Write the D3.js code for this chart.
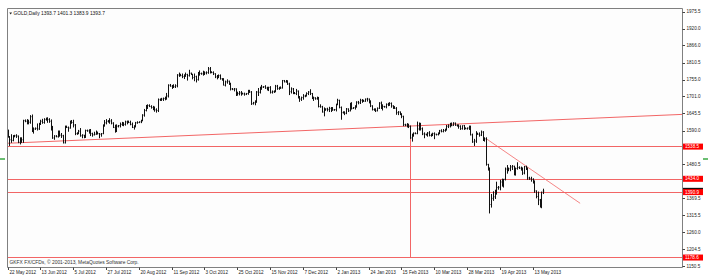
<!DOCTYPE html>
<html>
<head>
<meta charset="utf-8">
<script src="https://cdn.jsdelivr.net/npm/d3@7"></script>
<style>
  body { margin: 0; background: #fff; }
  svg { display: block; font-family: "Liberation Sans", Arial, sans-serif; }
</style>
</head>
<body>
<div id="chart"></div>
<script>
// GOLD daily bars, 22 May 2012 .. 21 May 2013 (broker has Sunday bars)
var opens = [
  1588,1570,1560,1558,1572,1573,1572,1552,1563,1560, 1622,1620,1620,1617,1635,1588,1595,1597,1595,1612,
  1620,1616,1626,1628,1626,1620,1600,1566,1572,1570, 1586,1575,1573,1550,1603,1600,1598,1620,1616,1608,
  1580,1582,1588,1573,1575,1568,1590,1589,1590,1580, 1576,1578,1585,1580,1578,1580,1604,1615,1620,1618,
  1621,1614,1600,1587,1604,1606,1610,1612,1610,1618, 1620,1616,1610,1600,1605,1615,1616,1618,1622,1640,
  1655,1668,1671,1668,1665,1664,1657,1655,1690,1691, 1692,1694,1694,1702,1737,1734,1730,1732,1735,1770,
  1772,1768,1765,1770,1772,1768,1776,1772,1762,1765, 1755,1778,1775,1774,1778,1777,1778,1790,1780,1778,
  1774,1764,1766,1768,1758,1754,1737,1748,1750,1742, 1725,1724,1725,1708,1710,1712,1710,1709,1708,1710,
  1719,1715,1677,1680,1683,1715,1714,1730,1731,1732, 1728,1725,1730,1714,1716,1718,1734,1726,1729,1728,
  1752,1748,1750,1741,1716,1725,1712,1710,1718,1697, 1692,1697,1702,1704,1710,1715,1710,1695,1696,1693,
  1697,1668,1667,1650,1658,1660,1658,1662,1663,1657, 1658,1675,1688,1665,1648,1650,1646,1660,1654,1675,
  1662,1664,1668,1682,1680,1688,1687,1685,1692,1692, 1684,1670,1658,1658,1654,1662,1679,1662,1668,1667,
  1675,1675,1678,1670,1666,1662,1648,1650,1644,1636, 1609,1608,1610,1604,1566,1575,1581,1580,1595,1612,
  1596,1579,1578,1576,1582,1574,1575,1580,1578,1577, 1580,1589,1587,1590,1592,1604,1605,1612,1606,1614,
  1607,1605,1604,1596,1606,1597,1596,1598,1600,1576, 1553,1556,1580,1578,1575,1585,1558,1563,1480,1468,
  1350,1370,1375,1393,1405,1406,1423,1412,1432,1465, 1462,1466,1472,1474,1446,1467,1470,1468,1468,1452,
  1473,1468,1436,1434,1432,1425,1394,1376,1365,1350, 1393.7
];
var highs = [
  1593,1572,1578,1575,1576,1578,1574,1568,1568,1625, 1626,1627,1625,1640,1642,1600,1600,1613,1615,1625,
  1628,1630,1632,1633,1630,1626,1605,1575,1575,1590, 1590,1582,1576,1606,1606,1603,1622,1624,1625,1611,
  1584,1592,1598,1578,1576,1593,1593,1594,1595,1583, 1586,1590,1586,1582,1582,1610,1624,1627,1624,1630,
  1627,1617,1609,1610,1608,1616,1618,1617,1622,1622, 1622,1622,1616,1607,1618,1620,1620,1625,1643,1660,
  1673,1675,1675,1672,1670,1668,1662,1694,1694,1696, 1697,1700,1712,1740,1741,1738,1740,1740,1773,1778,
  1774,1775,1772,1778,1774,1787,1778,1774,1775,1768, 1780,1785,1778,1784,1782,1782,1796,1796,1782,1782,
  1776,1770,1772,1772,1760,1760,1752,1756,1752,1745, 1728,1728,1727,1716,1718,1718,1713,1713,1712,1722,
  1722,1718,1683,1688,1718,1728,1732,1738,1734,1737, 1732,1732,1734,1720,1720,1738,1738,1732,1733,1754,
  1754,1754,1753,1745,1730,1728,1715,1725,1720,1702, 1700,1708,1706,1714,1718,1724,1712,1700,1698,1700,
  1699,1675,1670,1665,1662,1664,1667,1666,1666,1660, 1677,1693,1690,1668,1652,1652,1663,1662,1680,1682,
  1666,1672,1685,1686,1693,1692,1690,1694,1696,1694, 1688,1672,1662,1662,1665,1682,1684,1675,1670,1678,
  1680,1682,1681,1672,1669,1666,1653,1652,1646,1638, 1612,1614,1612,1606,1580,1584,1584,1619,1616,1615,
  1600,1584,1580,1585,1588,1580,1583,1584,1580,1584, 1592,1594,1595,1596,1608,1610,1615,1616,1617,1616,
  1610,1610,1607,1607,1608,1600,1600,1606,1606,1580, 1563,1588,1583,1584,1590,1588,1568,1568,1482,1470,
  1384,1393,1398,1424,1410,1430,1434,1433,1470,1478, 1470,1478,1478,1476,1470,1487,1474,1473,1470,1475,
  1476,1470,1440,1440,1435,1428,1396,1392,1368,1392, 1401.3
];
var lows = [
  1567,1540,1550,1555,1568,1566,1549,1545,1550,1550, 1617,1610,1610,1612,1585,1580,1592,1590,1592,1608,
  1612,1612,1622,1615,1615,1590,1563,1560,1568,1567, 1570,1566,1548,1548,1598,1586,1596,1612,1600,1575,
  1576,1578,1570,1565,1565,1566,1586,1580,1572,1570, 1574,1576,1577,1565,1570,1578,1603,1610,1616,1612,
  1610,1598,1583,1585,1600,1600,1605,1604,1606,1610, 1614,1607,1598,1593,1600,1612,1614,1614,1620,1635,
  1652,1660,1666,1661,1656,1651,1648,1650,1686,1686, 1686,1688,1690,1697,1732,1725,1728,1728,1730,1764,
  1766,1760,1757,1764,1752,1765,1770,1756,1750,1746, 1752,1768,1771,1768,1770,1772,1774,1775,1776,1770,
  1760,1756,1760,1755,1752,1736,1733,1742,1738,1720, 1721,1717,1702,1703,1704,1703,1707,1703,1705,1706,
  1712,1673,1674,1672,1680,1702,1710,1722,1728,1725, 1720,1718,1710,1710,1712,1714,1722,1722,1725,1726,
  1746,1745,1738,1705,1710,1708,1708,1705,1694,1683, 1686,1690,1698,1700,1705,1705,1692,1686,1690,1690,
  1665,1664,1648,1636,1654,1652,1650,1650,1654,1654, 1652,1672,1662,1625,1645,1640,1643,1650,1652,1658,
  1660,1658,1664,1675,1676,1680,1683,1683,1684,1678, 1666,1655,1654,1650,1652,1660,1660,1655,1664,1662,
  1669,1670,1664,1660,1660,1641,1640,1640,1630,1604, 1604,1600,1598,1563,1554,1570,1578,1578,1590,1590,
  1575,1565,1574,1570,1571,1570,1572,1562,1574,1574, 1578,1584,1584,1586,1590,1598,1600,1604,1605,1605,
  1603,1596,1592,1593,1592,1594,1593,1592,1574,1550, 1540,1550,1576,1570,1572,1556,1554,1476,1460,1321,
  1340,1362,1368,1382,1398,1396,1408,1405,1428,1450, 1458,1458,1462,1445,1444,1463,1465,1460,1446,1448,
  1462,1430,1430,1424,1418,1388,1370,1348,1340,1338, 1383.9
];
var closes = [
  1570,1560,1558,1572,1573,1572,1552,1563,1560,1622, 1620,1620,1617,1635,1588,1595,1597,1595,1612,1620,
  1616,1626,1628,1626,1620,1600,1566,1572,1570,1586, 1575,1573,1550,1603,1600,1598,1620,1616,1608,1580,
  1582,1588,1573,1575,1568,1590,1589,1590,1580,1576, 1578,1585,1580,1578,1580,1604,1615,1620,1618,1621,
  1614,1600,1587,1604,1606,1610,1612,1610,1618,1620, 1616,1610,1600,1605,1615,1616,1618,1622,1640,1655,
  1668,1671,1668,1665,1664,1657,1655,1690,1691,1692, 1694,1694,1702,1737,1734,1730,1732,1735,1770,1772,
  1768,1765,1770,1772,1768,1776,1772,1762,1765,1755, 1778,1775,1774,1778,1777,1778,1790,1780,1778,1774,
  1764,1766,1768,1758,1754,1737,1748,1750,1742,1725, 1724,1725,1708,1710,1712,1710,1709,1708,1710,1719,
  1715,1677,1680,1683,1715,1714,1730,1731,1732,1728, 1725,1730,1714,1716,1718,1734,1726,1729,1728,1752,
  1748,1750,1741,1716,1725,1712,1710,1718,1697,1692, 1697,1702,1704,1710,1715,1710,1695,1696,1693,1697,
  1668,1667,1650,1658,1660,1658,1662,1663,1657,1658, 1675,1688,1665,1648,1650,1646,1660,1654,1675,1662,
  1664,1668,1682,1680,1688,1687,1685,1692,1692,1684, 1670,1658,1658,1654,1662,1679,1662,1668,1667,1675,
  1675,1678,1670,1666,1662,1648,1650,1644,1636,1609, 1608,1610,1604,1566,1575,1581,1580,1595,1612,1596,
  1579,1578,1576,1582,1574,1575,1580,1578,1577,1580, 1589,1587,1590,1592,1604,1605,1612,1606,1614,1607,
  1605,1604,1596,1606,1597,1596,1598,1600,1576,1553, 1556,1580,1578,1575,1585,1558,1563,1480,1468,1350,
  1370,1375,1393,1405,1406,1423,1412,1432,1465,1462, 1466,1472,1474,1446,1467,1470,1468,1468,1452,1473,
  1468,1436,1434,1432,1425,1394,1376,1365,1350,1388, 1393.7
];

// time axis labels: one every 19 bars
var dateLabels = ["22 May 2012","13 Jun 2012","5 Jul 2012","27 Jul 2012","20 Aug 2012","11 Sep 2012",
  "3 Oct 2012","25 Oct 2012","15 Nov 2012","7 Dec 2012","2 Jan 2013","24 Jan 2013","15 Feb 2013",
  "10 Mar 2013","28 Mar 2013","19 Apr 2013","13 May 2013"];
var dateBars = [0,19,38,57,76,95,114,133,152,171,190,209,228,247,266,285,304];

// price scale labels that are not covered by object labels
var priceTicks = [1975.5,1920.0,1866.0,1810.5,1755.0,1701.0,1645.5,1590.0,1480.5,
  1369.5,1315.5,1260.0,1204.5,1150.5];

// drawn objects
var levels = [1538.5, 1434.0, 1390.9, 1178.6];
var bidPrice = 1393.7;
var riseLine = [[0, 1548.7], [310, 1623.0]];
var fallLine = [[277, 1564.0], [331.5, 1354.0]];
var vLine = [233, 1606.0, 1178.6];
var title = "GOLD,Daily 1393.7 1401.3 1383.9 1393.7";
var copyright = "GKFX FX/CFDs, \u00a9 2001-2013, MetaQuotes Software Corp.";

var W = 709, H = 279;
var L = 7.5, T = 8.5, R = 682.5, B = 267.5;
var red = "#f26666", fs = 4.6;

var svg = d3.select("#chart").append("svg")
    .attr("width", W).attr("height", H);

svg.append("rect").attr("x", L).attr("y", T).attr("width", R - L).attr("height", B - T)
    .attr("fill", "#fdfdfd");

var x = d3.scaleLinear().domain([0, closes.length - 1]).range([7.5, 543]);
var y = d3.scaleLinear().domain([1150.5, 1975.5]).range([266, 11.7]);
var px = function(i) { return Math.round(x(i)) + 0.5; };
var py = function(p) { return Math.round(y(p)) + 0.5; };

svg.append("clipPath").attr("id", "plot").append("rect")
    .attr("x", L).attr("y", T).attr("width", R - L).attr("height", B - T);

var plot = svg.append("g").attr("clip-path", "url(#plot)");

// horizontal levels
plot.selectAll("line.level").data(levels).join("line")
    .attr("class", "level")
    .attr("x1", L).attr("x2", R)
    .attr("y1", d => py(d)).attr("y2", d => py(d))
    .attr("stroke", red).attr("stroke-width", 1);

// trend lines
var slope = (riseLine[1][1] - riseLine[0][1]) / (riseLine[1][0] - riseLine[0][0]);
var bl = x.invert(L), br = x.invert(R);
plot.append("line")
    .attr("x1", L).attr("y1", y(riseLine[0][1] + slope * (bl - riseLine[0][0])))
    .attr("x2", R).attr("y2", y(riseLine[0][1] + slope * (br - riseLine[0][0])))
    .attr("stroke", red).attr("stroke-width", 1);

plot.append("line")
    .attr("x1", x(fallLine[0][0])).attr("y1", y(fallLine[0][1]))
    .attr("x2", x(fallLine[1][0])).attr("y2", y(fallLine[1][1]))
    .attr("stroke", red).attr("stroke-width", 0.8);

plot.append("line")
    .attr("x1", px(vLine[0])).attr("x2", px(vLine[0]))
    .attr("y1", y(vLine[1])).attr("y2", py(vLine[2]))
    .attr("stroke", red).attr("stroke-width", 1);

// OHLC bars
var idx = d3.range(closes.length);
var bars = plot.append("g").attr("stroke", "#111");
bars.selectAll("line.hl").data(idx).join("line")
    .attr("x1", px).attr("x2", px)
    .attr("y1", i => y(highs[i])).attr("y2", i => y(lows[i]))
    .attr("stroke-width", 1);
bars.selectAll("line.op").data(idx).join("line")
    .attr("x1", i => px(i) - 1).attr("x2", i => px(i))
    .attr("y1", i => y(opens[i])).attr("y2", i => y(opens[i]))
    .attr("stroke-width", 0.8).attr("stroke-opacity", 0.6);
bars.selectAll("line.cl").data(idx).join("line")
    .attr("x1", i => px(i)).attr("x2", i => px(i) + 1)
    .attr("y1", i => y(closes[i])).attr("y2", i => y(closes[i]))
    .attr("stroke-width", 0.8).attr("stroke-opacity", 0.6);

// frame
svg.append("path")
    .attr("d", "M" + L + "," + B + "V" + T + "H" + R + "V" + B + "H" + L)
    .attr("fill", "none").attr("stroke", "#808080").attr("stroke-width", 1);

// price scale
var pt = svg.append("g").attr("font-size", fs).attr("fill", "#222");
pt.selectAll("line").data(priceTicks).join("line")
    .attr("x1", R).attr("x2", R + 2.5)
    .attr("y1", d => py(d)).attr("y2", d => py(d))
    .attr("stroke", "#444");
pt.selectAll("text").data(priceTicks).join("text")
    .attr("x", R + 4).attr("y", d => y(d)).attr("dy", "0.35em")
    .text(d => d.toFixed(1));

// bid label (mostly hidden) and level labels
var tag = svg.append("g").attr("font-size", fs);
tag.append("rect").attr("x", R + 0.5).attr("y", y(bidPrice) - 3.2)
    .attr("width", 20).attr("height", 6.2).attr("fill", "#111");
levels.forEach(function(l) {
  tag.append("rect").attr("x", R + 0.5).attr("y", y(l) - 2.8)
      .attr("width", 20).attr("height", 6).attr("fill", "#ff0000");
  tag.append("text").attr("x", R + 2.5).attr("y", y(l)).attr("dy", "0.35em")
      .attr("fill", "#fff").text(l.toFixed(1));
});

// time scale
var tx = svg.append("g").attr("font-size", fs).attr("fill", "#222");
tx.selectAll("line").data(dateBars).join("line")
    .attr("x1", px).attr("x2", px).attr("y1", B).attr("y2", B + 2.5)
    .attr("stroke", "#444");
tx.selectAll("text").data(dateBars).join("text")
    .attr("x", d => px(d) + 1).attr("y", 274.3)
    .text((d, i) => dateLabels[i]);

// header and footer text
svg.append("path").attr("d", "M9.3,12.6 L12,12.6 L10.65,14.4 Z").attr("fill", "#222");
svg.append("text").attr("x", 13.5).attr("y", 14.9).attr("font-size", 4.9)
    .attr("fill", "#111").text(title);
svg.append("text").attr("x", 9.5).attr("y", 263.9).attr("font-size", 4.9)
    .attr("fill", "#333").text(copyright);

// green markers at both edges
svg.append("line").attr("x1", 0).attr("x2", 5).attr("y1", 159).attr("y2", 159)
    .attr("stroke", "#3aa843").attr("stroke-width", 1.5);
svg.append("line").attr("x1", 703).attr("x2", 708).attr("y1", 159).attr("y2", 159)
    .attr("stroke", "#3aa843").attr("stroke-width", 1.5);
</script>
</body>
</html>
